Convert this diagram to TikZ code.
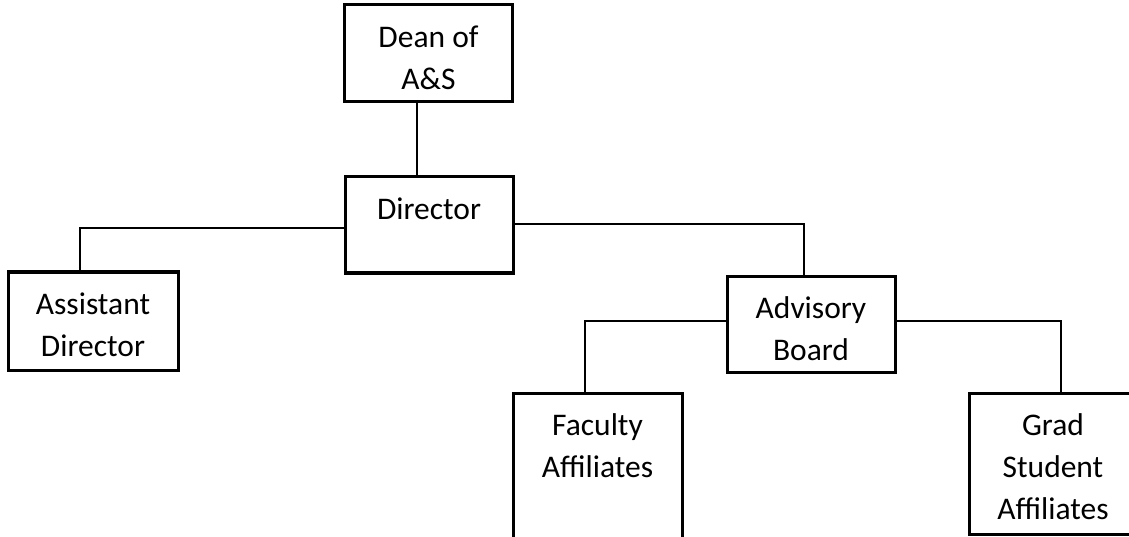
\documentclass[tikz,border=0pt]{standalone}
\usepackage{fontspec}
\setmainfont{Carlito}
\usetikzlibrary{positioning, calc}

\tikzset{
  orgbox/.style={draw, line width=3pt, minimum width=168pt, minimum height=96pt, inner sep=0pt},
  boxlabel/.style={anchor=north, align=center, inner sep=0pt, yshift=-22pt, font=\fontsize{31.5}{42}\selectfont},
  conn/.style={line width=2pt}
}

\begin{document}
\begin{tikzpicture}[x=1pt,y=1pt]
\useasboundingbox (0,0) rectangle (1129,-537);
\clip (0,0) rectangle (1129,-537);
\node[orgbox, minimum height=97pt, label={[boxlabel]north:Dean of\\A\&S}] (dean) at (428.5,-53.5) {};
\node[orgbox, label={[boxlabel]north:Director}] (director) at (429,-225) {};
\node[orgbox, minimum width=170pt, minimum height=98pt, label={[boxlabel]north:Assistant\\Director}] (assistant) at (93,-321) {};
\node[orgbox, label={[boxlabel]north:Advisory\\Board}] (advisory) at (811,-324) {};
\node[orgbox, minimum width=169pt, minimum height=160pt, label={[boxlabel]north:Faculty\\Affiliates}] (faculty) at (597.5,-473) {};
\node[orgbox, minimum height=141pt, label={[boxlabel]north:Grad\\Student\\Affiliates}] (grad) at (1053,-463.5) {};
\draw[conn] ([xshift=-11.5pt]dean.south) -- ([xshift=-11.5pt]dean.south |- director.north);
\draw[conn] ([yshift=-3pt]director.west) -| ([xshift=-13pt]assistant.north);
\draw[conn] ([yshift=1pt]director.east) -| ([xshift=-7pt]advisory.north);
\draw[conn] ([yshift=3pt]advisory.west) -| ([xshift=-12.5pt]faculty.north);
\draw[conn] ([yshift=3pt]advisory.east) -| ([xshift=8pt]grad.north);
\end{tikzpicture}
\end{document}
